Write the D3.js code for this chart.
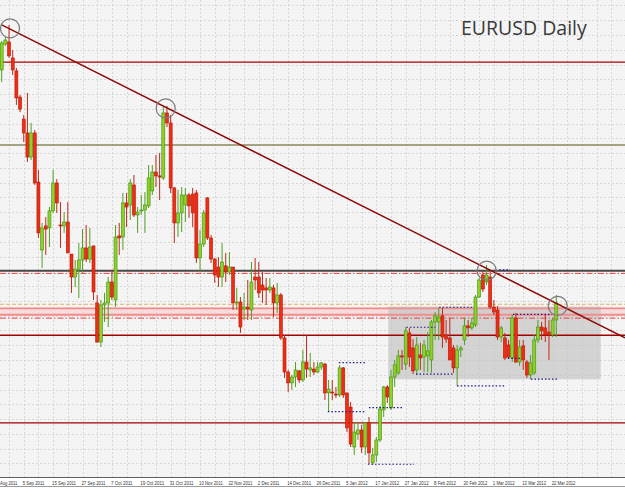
<!DOCTYPE html>
<html>
<head>
<meta charset="utf-8">
<script src="https://cdn.jsdelivr.net/npm/d3@7/dist/d3.min.js"></script>
<style>
body{margin:0;background:#fff;}
svg{display:block;}
</style>
</head>
<body>
<svg id="chart" width="625" height="488"></svg>
<script>
// daily bars, [open, high, low, close]
var ohlc = [
[1.4352,1.4480,1.4299,1.4471],[1.4466,1.4497,1.4458,1.4484],[1.4475,1.4550,1.4405,1.4414],[1.4405,1.4440,1.4330,1.4352],
[1.4348,1.4361,1.4198,1.4229],[1.4233,1.4242,1.4167,1.4180],[1.4136,1.4154,1.4035,1.4075],[1.4075,1.4251,1.3947,1.3969],
[1.3969,1.4119,1.3956,1.4075],[1.4075,1.4088,1.3846,1.3855],[1.3859,1.3912,1.3613,1.3635],[1.3560,1.3679,1.3481,1.3657],
[1.3666,1.3705,1.3538,1.3652],[1.3657,1.3749,1.3573,1.3732],[1.3732,1.3912,1.3723,1.3855],[1.3855,1.3872,1.3723,1.3767],
[1.3670,1.3771,1.3569,1.3666],[1.3666,1.3727,1.3635,1.3683],[1.3683,1.3771,1.3547,1.3547],[1.3542,1.3542,1.3371,1.3441],
[1.3441,1.3516,1.3397,1.3476],[1.3476,1.3591,1.3349,1.3516],[1.3516,1.3652,1.3459,1.3569],[1.3569,1.3670,1.3507,1.3520],
[1.3520,1.3657,1.3503,1.3573],[1.3578,1.3578,1.3340,1.3375],[1.3327,1.3362,1.3151,1.3155],[1.3155,1.3340,1.3133,1.3318],
[1.3318,1.3371,1.3243,1.3327],[1.3327,1.3441,1.3221,1.3419],[1.3419,1.3472,1.3340,1.3353],[1.3340,1.3670,1.3309,1.3617],
[1.3622,1.3679,1.3538,1.3613],[1.3617,1.3811,1.3560,1.3767],[1.3767,1.3811,1.3661,1.3749],[1.3758,1.3872,1.3692,1.3855],
[1.3846,1.3890,1.3705,1.3714],[1.3714,1.3749,1.3635,1.3727],[1.3732,1.3802,1.3714,1.3736],[1.3736,1.3815,1.3635,1.3758],
[1.3754,1.3934,1.3745,1.3877],[1.3820,1.3934,1.3802,1.3903],[1.3903,1.3978,1.3837,1.3886],[1.3886,1.3987,1.3780,1.3881],
[1.3877,1.4189,1.3868,1.4163],[1.4163,1.4194,1.4101,1.4119],[1.4119,1.4154,1.3811,1.3833],[1.3833,1.3837,1.3591,1.3679],
[1.3679,1.3824,1.3617,1.3723],[1.3723,1.3837,1.3639,1.3802],[1.3758,1.3833,1.3683,1.3802],[1.3802,1.3811,1.3701,1.3754],
[1.3806,1.3833,1.3661,1.3723],[1.3811,1.3824,1.3503,1.3525],[1.3525,1.3648,1.3463,1.3586],[1.3586,1.3736,1.3573,1.3723],
[1.3789,1.3793,1.3604,1.3613],[1.3613,1.3626,1.3503,1.3520],[1.3520,1.3525,1.3415,1.3450],[1.3485,1.3529,1.3397,1.3441],
[1.3441,1.3591,1.3397,1.3507],[1.3490,1.3547,1.3419,1.3463],[1.3463,1.3551,1.3450,1.3485],[1.3485,1.3485,1.3296,1.3327],
[1.3327,1.3393,1.3296,1.3331],[1.3331,1.3353,1.3195,1.3221],[1.3300,1.3371,1.3252,1.3309],[1.3309,1.3428,1.3252,1.3300],
[1.3296,1.3507,1.3252,1.3419],[1.3441,1.3525,1.3384,1.3428],[1.3441,1.3507,1.3349,1.3371],[1.3406,1.3463,1.3327,1.3384],
[1.3393,1.3437,1.3318,1.3384],[1.3384,1.3437,1.3371,1.3397],[1.3393,1.3406,1.3265,1.3327],[1.3327,1.3415,1.3283,1.3362],
[1.3362,1.3371,1.3164,1.3173],[1.3173,1.3186,1.2997,1.3023],[1.3023,1.3032,1.2935,1.2975],[1.2975,1.3010,1.2944,1.3001],
[1.3001,1.3067,1.2957,1.3032],[1.3028,1.3032,1.2975,1.2988],[1.2988,1.3120,1.2979,1.3067],[1.3067,1.3186,1.2997,1.3036],
[1.3032,1.3107,1.3001,1.3041],[1.3036,1.3067,1.3010,1.3023],[1.3023,1.3067,1.3019,1.3045],[1.3045,1.3067,1.3032,1.3063],
[1.3058,1.3063,1.2900,1.2931],[1.2931,1.2988,1.2847,1.2948],[1.2935,1.2988,1.2900,1.2931],[1.2926,1.2957,1.2909,1.2922],
[1.2922,1.3054,1.2913,1.3041],[1.3041,1.3045,1.2909,1.2922],[1.2931,1.2931,1.2759,1.2777],[1.2869,1.2891,1.2693,1.2706],
[1.2693,1.2803,1.2658,1.2759],[1.2750,1.2803,1.2724,1.2768],[1.2768,1.2790,1.2667,1.2693],[1.2693,1.2803,1.2658,1.2799],
[1.2799,1.2825,1.2618,1.2667],[1.2623,1.2689,1.2614,1.2658],[1.2658,1.2737,1.2627,1.2724],[1.2724,1.2874,1.2715,1.2860],
[1.2856,1.2962,1.2825,1.2957],[1.2957,1.2966,1.2887,1.2913],[1.2865,1.3032,1.2856,1.3001],[1.3001,1.3076,1.2957,1.3054],
[1.3019,1.3120,1.3010,1.3094],[1.3094,1.3120,1.3032,1.3089],[1.3058,1.3221,1.3032,1.3204],[1.3195,1.3217,1.3045,1.3089],
[1.3129,1.3168,1.3014,1.3028],[1.3032,1.3177,1.3010,1.3142],[1.3098,1.3151,1.3032,1.3085],[1.3089,1.3164,1.3023,1.3142],
[1.3094,1.3199,1.3023,1.3116],[1.3076,1.3252,1.3019,1.3243],[1.3243,1.3287,1.3164,1.3270],[1.3243,1.3305,1.3164,1.3265],
[1.3270,1.3305,1.3129,1.3177],[1.3186,1.3252,1.3151,1.3168],[1.3173,1.3261,1.3076,1.3076],[1.3129,1.3142,1.3019,1.3041],
[1.3041,1.3142,1.2962,1.3120],[1.3120,1.3138,1.3089,1.3129],[1.3164,1.3261,1.3142,1.3226],[1.3226,1.3252,1.3177,1.3217],
[1.3217,1.3261,1.3208,1.3239],[1.3230,1.3362,1.3221,1.3353],[1.3353,1.3437,1.3349,1.3428],[1.3450,1.3468,1.3375,1.3388],
[1.3419,1.3494,1.3406,1.3450],[1.3441,1.3463,1.3300,1.3309],[1.3309,1.3340,1.3274,1.3287],[1.3296,1.3314,1.3164,1.3177],
[1.3177,1.3226,1.3155,1.3217],[1.3173,1.3195,1.3076,1.3085],[1.3142,1.3164,1.3080,1.3089],[1.3085,1.3274,1.3067,1.3261],
[1.3261,1.3283,1.3063,1.3067],[1.3067,1.3164,1.3050,1.3133],[1.3138,1.3164,1.3032,1.3076],[1.3067,1.3076,1.2997,1.3010],
[1.3010,1.3098,1.2992,1.3063],[1.3019,1.3186,1.3010,1.3164],[1.3164,1.3252,1.3151,1.3221],[1.3221,1.3243,1.3164,1.3204],
[1.3217,1.3274,1.3155,1.3186],[1.3199,1.3252,1.3076,1.3186],[1.3186,1.3261,1.3177,1.3252],[1.3252,1.3362,1.3177,1.3327]
];

// first label is only partly in view in the original, its visible part is kept
var tickBars = [0.8,7,15,23,31,39,47,55,63,71,79,87,95,103,111,119,127,135,143,151];
var tickLabels = ["Aug 2011","5 Sep 2011","15 Sep 2011","27 Sep 2011","7 Oct 2011","19 Oct 2011","31 Oct 2011",
	"10 Nov 2011","22 Nov 2011","2 Dec 2011","14 Dec 2011","26 Dec 2011","5 Jan 2012","17 Jan 2012","27 Jan 2012",
	"8 Feb 2012","20 Feb 2012","1 Mar 2012","13 Mar 2012","22 Mar 2012"];

// horizontal levels
var levelPrices = [1.4387, 1.4022, 1.3469, 1.3457, 1.3321, 1.3303, 1.3275, 1.3260, 1.3185, 1.2799];
var pinkZone = [1.3306, 1.3272];

// trendline anchors [bar, price]
var trendPoints = [[1, 1.4550], [152, 1.3325]];
// marked swing points [bar, price]
var swingMarks = [[3.26, 1.4535], [45.65, 1.4183], [133.05, 1.3469], [152.4, 1.3314]];
// range box [bar from, bar to, top, bottom]
var rangeBox = [106.25, 164.1, 1.3311, 1.2991];
// dotted support / resistance [bar from, bar to, price]
var dotLevels = [
	[111.2, 119.1, 1.3220], [120.1, 129.3, 1.3308], [113.8, 124.1, 1.3014], [125, 138.3, 1.2962],
	[140.2, 150.8, 1.3277], [138.8, 142.1, 1.3083], [145.1, 152.2, 1.2992], [92.8, 100.2, 1.3064],
	[89.8, 100.2, 1.2849], [101, 110.3, 1.2866], [100.7, 113.3, 1.2617], [136.5, 139.4, 1.3472]
];

var width = 625, height = 488, plotH = 477;
var svg = d3.select("#chart");

var x = d3.scaleLinear().domain([1, 152]).range([1.7, 556.3]);
var y = d3.scaleLinear().domain([1.4660, 1.2561]).range([0, plotH]);

svg.append("defs").append("clipPath").attr("id", "plotclip")
	.append("rect").attr("x", 0).attr("y", 0).attr("width", width).attr("height", plotH);

svg.append("rect").attr("width", width).attr("height", height).attr("fill", "#ffffff");
svg.append("rect").attr("width", width).attr("height", plotH).attr("fill", "#f4f4f4");

var plot = svg.append("g").attr("clip-path", "url(#plotclip)");

//==============grid=================
var grid = plot.append("g").attr("stroke", "#cfcfcf").attr("stroke-width", 0.8).attr("stroke-dasharray", "2,2");
var vb = [];
for (var b = 3; x(b) < width; b += 4) vb.push(b);
grid.selectAll("line.v").data(vb).enter().append("line").attr("class", "v")
	.attr("x1", function(d){return Math.round(x(d)) + 0.5;})
	.attr("x2", function(d){return Math.round(x(d)) + 0.5;})
	.attr("y1", 0).attr("y2", plotH);
var hp = d3.range(1.4636, 1.2561, -0.0065);
grid.selectAll("line.h").data(hp).enter().append("line").attr("class", "h")
	.attr("x1", 0).attr("x2", width)
	.attr("y1", function(d){return Math.round(y(d)) + 0.5;})
	.attr("y2", function(d){return Math.round(y(d)) + 0.5;});

//==============pink zone + range box=================
plot.append("rect").attr("x", 0).attr("width", width)
	.attr("y", y(pinkZone[0])).attr("height", y(pinkZone[1]) - y(pinkZone[0]))
	.attr("fill", "#f6d6d6").attr("opacity", 0.8);
plot.append("rect")
	.attr("x", x(rangeBox[0])).attr("width", x(rangeBox[1]) - x(rangeBox[0]))
	.attr("y", y(rangeBox[2])).attr("height", y(rangeBox[3]) - y(rangeBox[2]))
	.attr("fill", "#c4c4c4").attr("opacity", 0.7);

//==============levels=================
var levelStyle = [
	{c: "#b00000", w: 1.3, dash: null},
	{c: "#8a8a5c", w: 1.6, dash: null},
	{c: "#4a4a4a", w: 2, dash: null},
	{c: "#e8413c", w: 1, dash: "6,2,1.5,2"},
	{c: "#e2b46a", w: 1, dash: "4,2"},
	{c: "#f08c8c", w: 1.8, dash: null},
	{c: "#f08c8c", w: 1.8, dash: null},
	{c: "#e8413c", w: 1, dash: "6,2,1.5,2"},
	{c: "#a00000", w: 1.5, dash: null},
	{c: "#a00000", w: 1.3, dash: null}
];
plot.append("g").selectAll("line").data(levelPrices).enter().append("line")
	.attr("x1", 0).attr("x2", width)
	.attr("y1", function(d){return y(d);}).attr("y2", function(d){return y(d);})
	.attr("stroke", function(d, i){return levelStyle[i].c;})
	.attr("stroke-width", function(d, i){return levelStyle[i].w;})
	.attr("stroke-dasharray", function(d, i){return levelStyle[i].dash;});

//==============candles=================
var candles = plot.append("g").selectAll("g").data(ohlc).enter().append("g");
candles.append("line")
	.attr("x1", function(d, i){return x(i + 1);}).attr("x2", function(d, i){return x(i + 1);})
	.attr("y1", function(d){return y(d[1]);}).attr("y2", function(d){return y(d[2]);})
	.attr("stroke", function(d){return d[3] >= d[0] ? "#4f9e22" : "#c02818";})
	.attr("stroke-width", 1);
candles.append("rect")
	.attr("x", function(d, i){return x(i + 1) - 1.5;})
	.attr("width", 3)
	.attr("y", function(d){return y(Math.max(d[0], d[3]));})
	.attr("height", function(d){return Math.max(1, Math.abs(y(d[0]) - y(d[3])));})
	.attr("fill", function(d){return d[3] >= d[0] ? "#8fd125" : "#f02c12";})
	.attr("stroke", function(d){return d[3] >= d[0] ? "#3f8e14" : "#b41a0a";})
	.attr("stroke-width", 0.6);

//==============dotted levels=================
plot.append("g").selectAll("line").data(dotLevels).enter().append("line")
	.attr("x1", function(d){return x(d[0]);}).attr("x2", function(d){return x(d[1]);})
	.attr("y1", function(d){return y(d[2]);}).attr("y2", function(d){return y(d[2]);})
	.attr("stroke", "#1c1c8a").attr("stroke-width", 1.2).attr("stroke-dasharray", "1.5,2");

//==============trendline=================
var slope = (y(trendPoints[1][1]) - y(trendPoints[0][1])) / (x(trendPoints[1][0]) - x(trendPoints[0][0]));
var tx0 = x(trendPoints[0][0]), ty0 = y(trendPoints[0][1]);
plot.append("line")
	.attr("x1", tx0).attr("y1", ty0)
	.attr("x2", width).attr("y2", ty0 + (width - tx0) * slope)
	.attr("stroke", "#8b0a0a").attr("stroke-width", 1.4);

plot.append("g").selectAll("circle").data(swingMarks).enter().append("circle")
	.attr("cx", function(d){return x(d[0]);}).attr("cy", function(d){return y(d[1]);})
	.attr("r", 9.5).attr("fill", "none").attr("stroke", "#7a7a7a").attr("stroke-width", 1.2);

//==============title=================
svg.append("text").attr("x", 461).attr("y", 35)
	.attr("font-family", "'Open Sans', 'Noto Sans', sans-serif").attr("font-size", 19.5)
	.attr("fill", "#3a3a3a").text("EURUSD Daily");

//==============time axis=================
svg.append("line").attr("x1", 0).attr("x2", width).attr("y1", plotH + 0.5).attr("y2", plotH + 0.5)
	.attr("stroke", "#606060").attr("stroke-width", 1);
svg.append("line").attr("x1", 0).attr("x2", width).attr("y1", height - 1.5).attr("y2", height - 1.5)
	.attr("stroke", "#9a9a9a").attr("stroke-width", 1);
svg.append("g").selectAll("text").data(tickBars).enter().append("text")
	.attr("x", function(d){return x(d) - 1;})
	.attr("y", plotH + 7.5)
	.attr("font-family", "'Liberation Sans', sans-serif")
	.attr("font-size", 5.4).attr("fill", "#333")
	.attr("textLength", function(d, i){return tickLabels[i].length * 2.17;})
	.attr("lengthAdjust", "spacingAndGlyphs")
	.text(function(d, i){return tickLabels[i];});
</script>
</body>
</html>
